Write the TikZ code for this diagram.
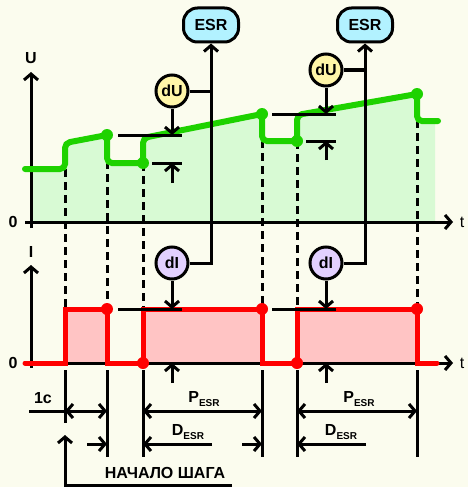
\documentclass[tikz,border=0pt]{standalone}
\usepackage{fontspec}
\setmainfont{Liberation Sans}
\usetikzlibrary{arrows.meta}
\definecolor{bg}{RGB}{251,252,238}
\definecolor{gline}{RGB}{30,210,0}
\definecolor{gfill}{RGB}{216,250,212}
\definecolor{rline}{RGB}{255,0,0}
\definecolor{rfill}{RGB}{255,196,196}
\definecolor{esrfill}{RGB}{178,242,255}
\definecolor{dufill}{RGB}{255,246,168}
\definecolor{difill}{RGB}{226,208,255}
\begin{document}
\begin{tikzpicture}[x=1pt,y=-1pt,
  ln/.style={line width=3pt},
  arr/.style={line width=3pt,-{Straight Barb[length=6pt,width=14pt]}},
  dimarr/.style={line width=3pt,{Straight Barb[length=6pt,width=14pt]}-{Straight Barb[length=6pt,width=14pt]}},
  dashln/.style={line width=3pt,dash pattern=on 8pt off 5pt},
  esrbox/.style={draw,line width=3pt,rounded corners=14pt,fill=esrfill,minimum width=55pt,minimum height=34pt,inner sep=0pt,font=\fontsize{16}{16}\selectfont\bfseries},
  circ/.style={circle,draw,line width=3pt,minimum size=32pt,inner sep=0pt,font=\fontsize{16}{16}\selectfont\bfseries},
  lbl/.style={inner sep=0pt,font=\fontsize{16}{16}\selectfont\bfseries},
  tlbl/.style={inner sep=0pt,font=\fontsize{16}{16}\selectfont},
  gdot/.style={circle,fill=gline,minimum size=12pt,inner sep=0pt},
  rdot/.style={circle,fill=rline,minimum size=12pt,inner sep=0pt},
  gcurve/.style={line width=6pt,gline,rounded corners=5pt,line cap=round},
  rcurve/.style={line width=5pt,rline,line cap=round}
]
\newcommand{\esrsub}[1]{#1{\fontsize{10}{10}\selectfont\raisebox{-4pt}{ESR}}}
\fill[bg] (0,0) rectangle (468,487);
\useasboundingbox (0,0) rectangle (468,487);

% fills
\fill[gfill] (31,222) -- (31,169) -- (65,169) -- (65,143) -- (107,135) -- (107,163) -- (143,163) -- (143,138) -- (262,114) -- (262,141) -- (297,141) -- (297,115) -- (417,94) -- (417,121) -- (435,121) -- (435,222) -- cycle;
\fill[rfill] (65,309) rectangle (107,363);
\fill[rfill] (143,309) rectangle (262,363);
\fill[rfill] (297,309) rectangle (417,363);

% dashed guides
\foreach \x/\y in {65/169,107/135,143/163,262/114,297/141,417/94}
  \draw[dashln] (\x,\y) -- (\x,309);

% solid guides below
\draw[ln] (65,370) -- (65,423);
\foreach \x in {107,143,262,297,417}
  \draw[ln] (\x,370) -- (\x,457);

% axes
\draw[arr] (31,228) -- (31,72);
\draw[arr] (25,222) -- (453,222);
\draw[arr] (31,368) -- (31,265);
\draw[arr] (25,363) -- (453,363);
\node[lbl] (lu) at (31,58) {U};
\node[lbl] (li) at (31,252) {I};
\node[lbl] (z1) at (13,222) {0};
\node[lbl] (z2) at (13,363) {0};
\node[tlbl] (t1) at (462,222) {t};
\node[tlbl] (t2) at (462,363) {t};

% curves
\draw[gcurve] (25,169) -- (65,169) -- (65,143) -- (107,135) -- (107,163) -- (143,163) -- (143,138) -- (262,114) -- (262,141) -- (297,141) -- (297,115) -- (417,94) -- (417,121) -- (438,121);
\draw[rcurve] (25,363) -- (65,363) -- (65,309) -- (107,309) -- (107,363) -- (143,363) -- (143,309) -- (262,309) -- (262,363) -- (297,363) -- (297,309) -- (417,309) -- (417,363) -- (437,363);
\foreach \p in {(107,135),(143,163),(262,114),(297,141),(417,94)}
  \node[gdot] at \p {};
\foreach \p in {(107,309),(143,363),(262,309),(297,363),(417,309)}
  \node[rdot] at \p {};

% measurement lines
\draw[ln] (118,135) -- (182,135);
\draw[ln] (152,163) -- (182,163);
\draw[ln] (272,114) -- (336,114);
\draw[ln] (306,141) -- (336,141);
\draw[ln] (118,309) -- (182,309);
\draw[ln] (272,309) -- (336,309);

% nodes
\node[esrbox] (esr1) at (211,25) {ESR};
\node[esrbox] (esr2) at (365,25) {ESR};
\node[circ,fill=dufill] (du1) at (172,91) {dU};
\node[circ,fill=dufill] (du2) at (326,70) {dU};
\node[circ,fill=difill] (di1) at (172,263) {dI};
\node[circ,fill=difill] (di2) at (326,263) {dI};

% connectors
\draw[arr] (di1.east) -| (esr1.south);
\draw[ln] (du1.east) -- (du1.east -| esr1.south);
\draw[arr] (di2.east) -| (esr2.south);
\draw[ln] (du2.east) -- (du2.east -| esr2.south);

\draw[arr] (du1.south) -- (172,135);
\draw[arr] (172,183) -- (172,163);
\draw[arr] (du2.south) -- (326,114);
\draw[arr] (326,160) -- (326,141);
\draw[arr] (di1.south) -- (172,309);
\draw[arr] (172,383) -- (172,363);
\draw[arr] (di2.south) -- (326,309);
\draw[arr] (326,383) -- (326,363);

% dimension rows
\draw[ln] (29,411) -- (65,411);
\draw[dimarr] (65,411) -- (107,411);
\draw[dimarr] (143,411) -- (262,411);
\draw[dimarr] (297,411) -- (417,411);
\draw[arr] (87,444) -- (107,444);
\draw[arr] (212,444) -- (143,444);
\draw[arr] (242,444) -- (262,444);
\draw[arr] (366,444) -- (297,444);

\node[lbl] (l1c) at (43,398) {1c};
\node[lbl] (pesr1) at (204,399) {\esrsub{P}};
\node[lbl] (pesr2) at (359,399) {\esrsub{P}};
\node[lbl] (desr1) at (188,432) {\esrsub{D}};
\node[lbl] (desr2) at (341,432) {\esrsub{D}};

% start of step
\node[lbl] (start) at (165,473) {НАЧАЛО ШАГА};
\coordinate (sc) at (232,485);
\draw[arr] (sc) -- (65,485) -- (65,435);
\end{tikzpicture}
\end{document}
